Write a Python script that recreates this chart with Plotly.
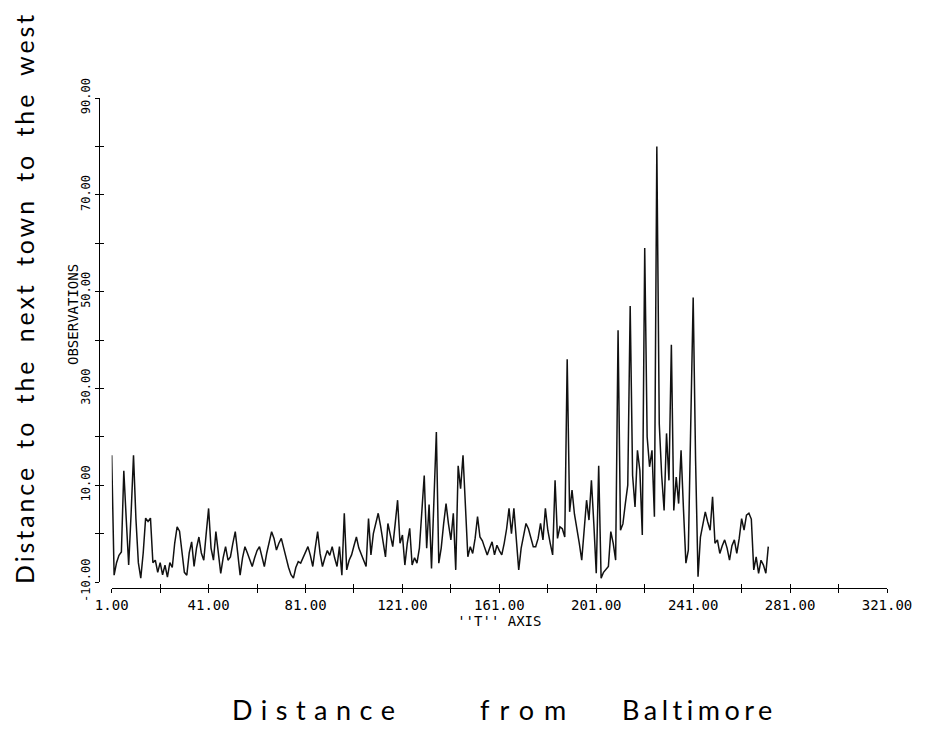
import plotly.graph_objects as go

# Observations (value at T = 1, 2, 3, ...)
obs = [
    16.2, -8.6, -6, -4.5, -3.8, 13, 3, -6.5, 4, 16.2,
    3, -6, -9.2, -4, 3.2, 2.5, 3.2, -6, -5.5, -8,
    -6, -8.5, -6.5, -9, -6, -7, -2, 1.4, 0.5, -4,
    -8, -8.6, -4, -1.7, -6.8, -3, -0.7, -4, -5.5, 0,
    5.2, -3, -5.5, 0.4, -4, -8.2, -5, -2.7, -5.5, -4.8,
    -2, 0.4, -4, -8.6, -5, -2.7, -4, -5.5, -6.8, -5,
    -3.5, -2.7, -4.5, -6.8, -4, -1.5, 0.4, -1, -3.4, -2,
    -1, -3, -5.1, -7, -8.5, -9.2, -7, -5.8, -6.1, -5,
    -4, -2.7, -4.5, -6.8, -3, 0.4, -4.1, -6.8, -5, -3.5,
    -4.5, -2.7, -5, -6.8, -2.7, -8.6, 4.2, -7.5, -5.5, -4.4,
    -2.5, -0.7, -3, -4.4, -5.5, -6.8, 3.1, -4.4, 0, 2,
    4.2, 1.5, -1.5, -4.8, 2.1, -0.5, -2.7, 2, 6.9, -2,
    -0.3, -6.5, -2, 1.1, -6.5, -5, -6.1, -3, 4, 12,
    -3, 6, -7.2, 5, 21, -6.1, -3, 2, 6.2, 2,
    -1.3, 4.2, -7.5, 14, 9.3, 16.2, 5, -4.8, -2.7, -4.1,
    -1, 3.5, -0.7, -1.5, -3, -4.4, -3, -1.7, -4.4, -2.4,
    -3.5, -4.4, -2, 1, 5.2, 0, 5.2, -2, -7.5, -3,
    0, 2.1, 1, -1, -2.7, -2.7, -1, 2.1, -1.3, 5.2,
    0.7, -2, -4.4, 11, -1, 1.4, 1, -0.7, 36, 4.5,
    9, 4, 1.4, -2, -5.5, 0, 6.9, 2.8, 11, 2,
    -8.2, 14, -9.2, -8, -7.5, -6.8, 0.4, -2, -5.5, 42,
    0.7, 2, 6.2, 10, 47, 12, 5.5, 17.2, 13, -0.3,
    59, 20, 13.8, 17.2, 3.5, 80, 22.7, 12, 4.8, 20.7,
    11, 39, 4.8, 11.7, 6.2, 17.2, 5, -6.1, -3.4, 20,
    48.8, 15, -8.9, -0.7, 2, 4.5, 2.4, 0.7, 7.6, -2,
    -1.3, -4.1, -2.5, -1.3, -3, -5.5, -2.5, -1.3, -4.1, -1,
    3.1, 0.7, 3.8, 4.2, 3, -7.5, -4.8, -8.2, -5.5, -6.5,
    -8.2, -2.7,
]
t_vals = list(range(1, len(obs) + 1))

x_ticks = [1, 21, 41, 61, 81, 101, 121, 141, 161, 181, 201, 221, 241, 261, 281, 301, 321]
x_labels = ["1.00", "", "41.00", "", "81.00", "", "121.00", "", "161.00", "",
            "201.00", "", "241.00", "", "281.00", "", "321.00"]
y_ticks = [-10, 0, 10, 20, 30, 40, 50, 60, 70, 80, 90]
y_labels = ["-10.00", "", "10.00", "", "30.00", "", "50.00", "", "70.00", "", "90.00"]

bottom_words = ["Distance", "from", "Baltimore"]
side_title = "Distance to the next town to the west"

# page body has an 8px margin: figure is drawn at (8, 8)
OFF = 8
W, H = 929 - 2 * OFF, 736 - 2 * OFF
L = 99 - OFF
T = 98 - OFF
R = W - (887 - OFF)
B = H - (588 - OFF)
pw, ph = W - L - R, H - T - B


def px(p):  # screenshot pixel x -> paper x
    return (p - OFF - L) / pw


def py(p):  # screenshot pixel y -> paper y
    return (H + OFF - B - p) / ph


mono = "DejaVu Sans Mono"
xdom = [px(111.7), 1.0]
ydom = [py(582), 1.0]

fig = go.Figure()
fig.add_trace(go.Scatter(x=t_vals, y=obs, mode="lines",
                         line=dict(color="#111111", width=1.5),
                         showlegend=False, hoverinfo="skip"))
# invisible trace so the overlay axes (inner tick halves) are drawn
fig.add_trace(go.Scatter(x=[None], y=[None], xaxis="x2", yaxis="y2",
                         showlegend=False, hoverinfo="skip"))

common_x = dict(range=[1, 321], tickvals=x_ticks, domain=xdom,
                showline=True, linecolor="black", linewidth=1.3,
                tickcolor="black", tickwidth=1.3, ticklen=4,
                showgrid=False, zeroline=False, anchor="free", position=0,
                automargin=False)
common_y = dict(range=[-10, 90], tickvals=y_ticks, domain=ydom,
                showline=True, linecolor="black", linewidth=1.3,
                tickcolor="black", tickwidth=1.3, ticklen=4,
                showgrid=False, zeroline=False, anchor="free", position=0,
                automargin=False)

fig.update_layout(
    width=W, height=H,
    margin=dict(l=L, r=R, t=T, b=B),
    paper_bgcolor="white", plot_bgcolor="white",
    xaxis=dict(**common_x, ticks="outside", ticktext=x_labels,
               tickfont=dict(family=mono, size=14, color="black"),
               title=dict(text="''T'' AXIS", standoff=0,
                          font=dict(family=mono, size=14, color="black"))),
    yaxis=dict(**common_y, ticks="outside", ticktext=y_labels, tickangle=-90,
               tickfont=dict(family=mono, size=12, color="black")),
    xaxis2=dict(**common_x, ticks="inside", showticklabels=False, overlaying="x"),
    yaxis2=dict(**common_y, ticks="inside", showticklabels=False, overlaying="y"),
)

fig.add_annotation(text="OBSERVATIONS", xref="paper", yref="paper",
                   x=px(73), y=py(315), textangle=-90, showarrow=False,
                   xanchor="center", yanchor="middle",
                   font=dict(family=mono, size=14, color="black"))

big = "Lato"
fig.add_annotation(text=f'<span style="letter-spacing:2.9px;word-spacing:7px">{side_title}</span>',
                   xref="paper", yref="paper", x=px(24), y=py(298),
                   textangle=-90, showarrow=False,
                   xanchor="center", yanchor="middle", borderpad=0,
                   font=dict(family=big, size=25, color="black"))
for word, left, spacing in zip(bottom_words, [230, 478, 620], [8.5, 10, 4.5]):
    fig.add_annotation(text=f'<span style="letter-spacing:{spacing}px">{word}</span>',
                       xref="paper", yref="paper", x=px(left), y=py(710),
                       showarrow=False, xanchor="left", yanchor="middle",
                       font=dict(family=big, size=27, color="black"))

fig.write_html("out.html")
